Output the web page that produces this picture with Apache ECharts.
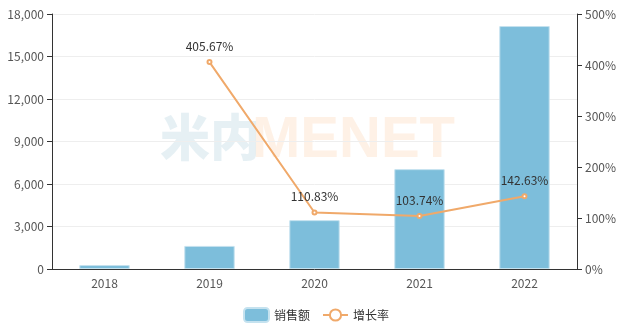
<!DOCTYPE html>
<html><head><meta charset="utf-8">
<script src="https://cdn.jsdelivr.net/npm/echarts@6/dist/echarts.min.js"></script>
<style>html,body{margin:0;padding:0;background:#fff}#c{width:633px;height:330px}</style>
</head><body><div id="c"></div>
<script>
const categories = ['2018','2019','2020','2021','2022'];
const sales = [280, 1630, 3450, 7050, 17150];
const growth = [null, 405.67, 110.83, 103.74, 142.63];
const leftTicks = [0, 18000, 3000];
const rightTicks = [0, 500, 100];

const chart = echarts.init(document.getElementById('c'));
const font = '"Noto Sans CJK SC", "Noto Sans", sans-serif';
chart.setOption({
  animation: false,
  textStyle: { fontFamily: font },
  grid: { left: 52, right: 56, top: 14, bottom: 61 },
  graphic: [
    { type: 'text', left: 160, top: 112, z: -10, style: { text: '米内', fontSize: 50, fontWeight: 900, fill: 'rgba(200,222,230,0.45)', fontFamily: font } },
    { type: 'text', left: 252, top: 112, z: -10, style: { text: 'MENET', fontSize: 58, fontWeight: 900, fill: 'rgba(253,225,200,0.45)', fontFamily: 'Liberation Sans, sans-serif' } }
  ],
  legend: {
    left: 238, bottom: 2, itemWidth: 25, itemHeight: 14, itemGap: 12,
    textStyle: { color: '#333', fontSize: 12 },
    data: [{ name: '销售额', icon: 'roundRect' }, { name: '增长率' }]
  },
  xAxis: {
    type: 'category', data: categories,
    axisLine: { lineStyle: { color: '#333' } },
    axisTick: { lineStyle: { color: '#333' } },
    axisLabel: { color: '#555', fontSize: 12, margin: 8 }
  },
  yAxis: [
    { type: 'value', min: leftTicks[0], max: leftTicks[1], interval: leftTicks[2],
      axisLine: { show: true, lineStyle: { color: '#333' } }, axisTick: { show: true },
      axisLabel: { color: '#555', fontSize: 12 },
      splitLine: { lineStyle: { color: '#eee' } } },
    { type: 'value', min: rightTicks[0], max: rightTicks[1], interval: rightTicks[2],
      axisLine: { show: true, lineStyle: { color: '#333' } }, axisTick: { show: true },
      axisLabel: { color: '#555', fontSize: 12, formatter: '{value}%' },
      splitLine: { show: false } }
  ],
  series: [
    { name: '销售额', type: 'bar', data: sales, barWidth: '48%',
      itemStyle: { color: '#7dbedb', borderColor: '#c5e2ef', borderWidth: 1 } },
    { name: '增长率', type: 'line', yAxisIndex: 1, data: growth,
      symbol: 'emptyCircle', symbolSize: 4, showAllSymbol: true,
      lineStyle: { color: '#f0a96a', width: 2 }, itemStyle: { color: '#f0a96a' },
      label: { show: true, position: 'top', color: '#333', fontSize: 12, distance: 7,
        formatter: p => p.value.toFixed(2) + '%' } }
  ]
});
</script></body></html>
